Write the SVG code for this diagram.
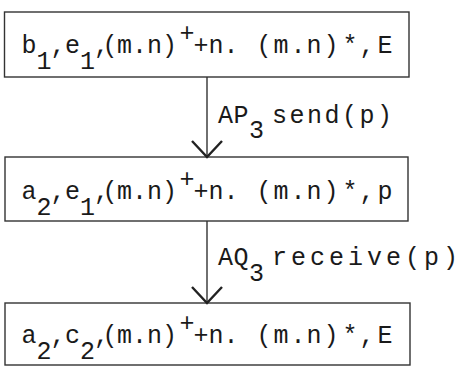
<svg xmlns="http://www.w3.org/2000/svg" width="467" height="367" viewBox="0 0 467 367">
<style>
.box{fill:#fff;stroke:#333;stroke-width:1.4}
.t{font-family:"Liberation Mono","DejaVu Sans Mono",monospace;font-size:25px;fill:#1a1a1a}
.conn line{stroke:#333;stroke-width:1.4}
</style>
<defs>
<marker id="v" viewBox="0 0 19 34" refX="17" refY="17" markerWidth="19" markerHeight="34" orient="auto" markerUnits="userSpaceOnUse">
<path d="M1,2 L17,17 L1,32" fill="none" stroke="#222" stroke-width="2.4"/>
</marker>
</defs>
<rect width="467" height="367" fill="#fff"/>
<g id="n1">
<rect class="box" x="4.5" y="12" width="404.5" height="65"/>
<text class="t" y="53"><tspan x="21.5" y="53">b</tspan><tspan x="36.5" y="69">1</tspan><tspan x="50.5 65" y="53">,e</tspan><tspan x="80" y="69">1</tspan><tspan x="94 102.5 117 132 147 162" y="53">,(m.n)</tspan><tspan x="179.5" y="41">+</tspan><tspan x="193.5 208.5 223.5 238.5 256.5 273.5 290.5 306.5 323.5 342.5 359.5 377.5" y="53">+n. (m.n)*,E</tspan></text>
</g>
<g id="n2">
<rect class="box" x="5" y="157" width="403" height="64"/>
<text class="t" y="199"><tspan x="21.5" y="199">a</tspan><tspan x="36.5" y="215">2</tspan><tspan x="50.5 65" y="199">,e</tspan><tspan x="80" y="215">1</tspan><tspan x="94 102.5 117 132 147 162" y="199">,(m.n)</tspan><tspan x="179.5" y="187">+</tspan><tspan x="193.5 208.5 223.5 238.5 256.5 273.5 290.5 306.5 323.5 342.5 359.5 377.5" y="199">+n. (m.n)*,p</tspan></text>
</g>
<g id="n3">
<rect class="box" x="5" y="303" width="405" height="62"/>
<text class="t" y="343"><tspan x="21.5" y="343">a</tspan><tspan x="36.5" y="359">2</tspan><tspan x="50.5 65" y="343">,c</tspan><tspan x="80" y="359">2</tspan><tspan x="94 102.5 117 132 147 162" y="343">,(m.n)</tspan><tspan x="179.5" y="331">+</tspan><tspan x="193.5 208.5 223.5 238.5 256.5 273.5 290.5 306.5 323.5 342.5 359.5 377.5" y="343">+n. (m.n)*,E</tspan></text>
</g>
<g id="connectors" class="conn">
<line x1="207" y1="77" x2="207" y2="157" marker-end="url(#v)"/>
<line x1="207" y1="221" x2="207" y2="303" marker-end="url(#v)"/>
<text class="t" y="123"><tspan x="218 233.5" y="123">AP</tspan><tspan x="249" y="138">3</tspan><tspan x="272 289.5 307 324.5 342 359.5 377" y="123">send(p)</tspan></text>
<text class="t" y="265"><tspan x="218 233.5" y="265">AQ</tspan><tspan x="249" y="281">3</tspan><tspan x="272 291 310 329 348 367 386 405 424 443" y="265">receive(p)</tspan></text>
</g>
</svg>
